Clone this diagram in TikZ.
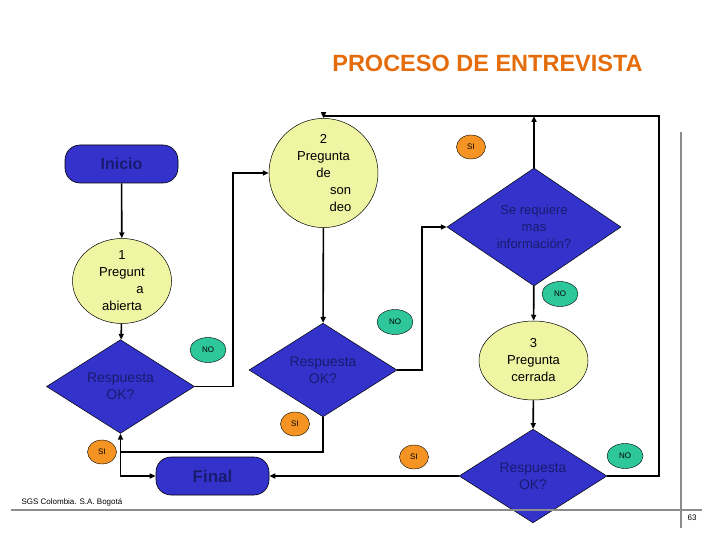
\documentclass[tikz,border=0pt]{standalone}
\usepackage{fontspec}
\setmainfont{Liberation Sans}
\usepackage{xcolor}
\usetikzlibrary{arrows.meta,shapes.geometric,positioning}
\definecolor{Azul}{HTML}{3333CC}
\definecolor{AzulTexto}{HTML}{1A1A6E}
\definecolor{Crema}{HTML}{EFF5A3}
\definecolor{Verde}{HTML}{2EC79C}
\definecolor{Naranja}{HTML}{F59422}
\definecolor{Titulo}{HTML}{E46C0A}
\definecolor{Gris}{HTML}{8C8C8C}

\begin{document}
\begin{tikzpicture}[
  x=1pt, y=-1pt,
  font=\fontsize{13}{17}\selectfont,
  term/.style={rounded corners=15pt, draw=black, line width=.6pt, fill=Azul,
    minimum width=113pt, minimum height=38pt, inner sep=0pt,
    text=AzulTexto, font=\fontsize{16}{18}\selectfont\bfseries},
  pregunta/.style={ellipse, draw=black, line width=.5pt, fill=Crema, inner sep=0pt,
    align=center, minimum width=109pt, minimum height=79pt},
  decision/.style={diamond, draw=black, line width=.5pt, fill=Azul, inner sep=0pt,
    align=center, text=AzulTexto, minimum width=148pt, minimum height=74pt,
    font=\fontsize{14}{17}\selectfont},
  si/.style={ellipse, draw=black, line width=.4pt, fill=Naranja, inner sep=0pt,
    minimum width=29pt, minimum height=24pt, font=\fontsize{8}{9}\selectfont},
  no/.style={ellipse, draw=black, line width=.4pt, fill=Verde, inner sep=0pt,
    minimum width=36pt, minimum height=25pt, font=\fontsize{8}{9}\selectfont},
  flow/.style={-{Triangle[length=6pt,width=5pt]}, line width=1.6pt, draw=black},
  regla/.style={line width=2pt, draw=Gris}
]
\useasboundingbox (0,0) rectangle (720,540);

\node[font=\fontsize{23.5}{26}\selectfont\bfseries, text=Titulo] (titulo) at (487.5,63)
  {PROCESO DE ENTREVISTA};

% Nodes of the interview flow.
\node[term] (inicio) at (121.5,164) {Inicio};
\node[pregunta, minimum width=99pt, minimum height=78pt] (p1) at (122,281)
  {1\\Pregunt\\\hspace*{36pt}a\\abierta};
\node[pregunta, minimum height=80pt] (p2) at (323.5,173)
  {2\\Pregunta\\de\\\hspace*{34pt}son\\\hspace*{34pt}deo};
\node[decision, minimum width=174pt, minimum height=108pt,
  font=\fontsize{13}{17}\selectfont] (d3) at (534,227)
  {Se requiere\\mas\\información?};
\node[decision] (d1) at (120.5,386.5) {Respuesta\\OK?};
\node[decision] (d2) at (323,370) {Respuesta\\OK?};
\node[pregunta] (p3) at (533.5,360.5) {3\\Pregunta\\cerrada};
\node[decision] (d4) at (533,476) {Respuesta\\OK?};
\node[term, font=\fontsize{17}{19}\selectfont\bfseries] (final) at (212.5,476) {Final};

\coordinate (arriba) at (534,116);

\draw[flow] (inicio) -- (p1);
\draw[flow] (p1) -- (d1);
\draw[flow] (d1.east) -- ++(38,0) |- (p2.west);
\draw[flow] (p2) -- (d2);
\draw[flow] (d2.east) -- ++(25,0) |- (d3.west);
\draw[flow] (d3.north) -- (arriba);
\draw[flow] (d4.east) -- ++(52,0) |- (arriba) -| (p2.north);
\draw[flow] (d3) -- (p3);
\draw[flow] (p3) -- (d4);
\draw[flow] (d4) -- (final);
\draw[flow] (d2.south) -- ++(0,35) coordinate (jSi) -| (d1.south);
\draw[flow] (jSi -| d1.south) |- (final.west);

% SI / NO tags.
\node[si] (si1) at (471,147) {SI};
\node[no] (no1) at (560,294) {NO};
\node[no] (no2) at (208,350) {NO};
\node[no] (no3) at (395,322) {NO};
\node[si] (si2) at (295,424) {SI};
\node[si] (si3) at (102,452) {SI};
\node[si] (si4) at (414,457) {SI};
\node[no] (no4) at (625,456) {NO};

% Page frame and footer.
\draw[regla] (11,510) -- (702,510);
\draw[regla] (681,132) -- (681,528);
\node[anchor=west, font=\fontsize{8}{9}\selectfont] (pie) at (18,502)
  {SGS Colombia. S.A. Bogotá};
\node[font=\fontsize{8}{9}\selectfont] (pagina) at (692,518) {63};
\end{tikzpicture}
\end{document}
